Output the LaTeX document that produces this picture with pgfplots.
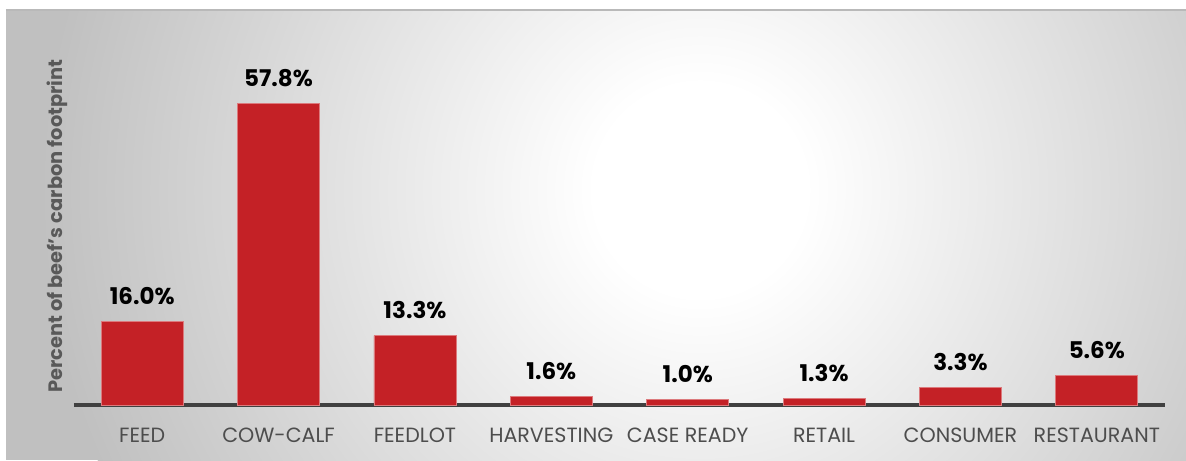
\documentclass[border=0pt]{standalone}
\usepackage{fontspec}
\setmainfont{Poppins}
\usepackage{pgfplots}
\pgfplotsset{compat=1.18}

\definecolor{barred}{HTML}{C42126}
\definecolor{axisgray}{HTML}{404040}
\definecolor{ticktext}{HTML}{4D4D4D}
\definecolor{labelgray}{HTML}{595959}
\definecolor{edgegray}{HTML}{C0C0C0}
\pgfdeclareradialshading{panelglow}{\pgfpoint{0bp}{0bp}}{color(0bp)=(white); color(4bp)=(white); color(25bp)=(edgegray); color(50bp)=(edgegray)}

\begin{document}
\begin{tikzpicture}
% background panel (1px of the reference = 0.5pt)
\fill[edgegray] (-34pt,-27.5pt) rectangle (556pt,197.5pt);
\begin{scope}
  \clip (-34pt,-27.5pt) rectangle (556pt,197.5pt);
  \shade[shading=panelglow] (313pt,107.5pt) circle (330pt);
\end{scope}
\draw[gray!55, line width=1pt] (-34pt,197.5pt) -- (556pt,197.5pt);

\begin{axis}[
    at={(0,0)}, anchor=south west,
    scale only axis, width=545.5pt, height=182.5pt,
    ybar, bar width=41pt,
    xmin=-0.5, xmax=7.5, ymin=0, ymax=70,
    axis x line=bottom, axis y line=left,
    x axis line style={-, line width=2pt, color=axisgray},
    y axis line style={draw=none},
    xtick={0,...,7},
    xticklabels={FEED, COW-CALF, FEEDLOT, HARVESTING, CASE READY, RETAIL, CONSUMER, RESTAURANT},
    ytick=\empty,
    major tick length=0pt,
    xticklabel style={anchor=base, yshift=-18.5pt, font=\fontsize{10.3}{12}\selectfont, text=ticktext},
    ylabel={Percent of beef's carbon footprint},
    ylabel style={at={(axis description cs:-0.0155,0.49)}, anchor=center, font=\bfseries\fontsize{9.7}{11}\selectfont, text=labelgray},
    /pgf/number format/assume math mode=true,
    nodes near coords={\pgfmathprintnumber[fixed,fixed zerofill,precision=1]{\pgfplotspointmeta}\%},
    every node near coord/.append style={anchor=base, yshift=8.5pt, inner sep=0pt, font=\bfseries\fontsize{11.5}{13}\selectfont, text=black},
]
\addplot[fill=barred, draw=barred!60!white, line width=0.4pt] coordinates {
    (0,16.0) (1,57.8) (2,13.3) (3,1.6) (4,1.0) (5,1.3) (6,3.3) (7,5.6)
};
\end{axis}

\pgfresetboundingbox
\path (-37pt,-27.5pt) rectangle (556pt,202.5pt);
\end{tikzpicture}
\end{document}
